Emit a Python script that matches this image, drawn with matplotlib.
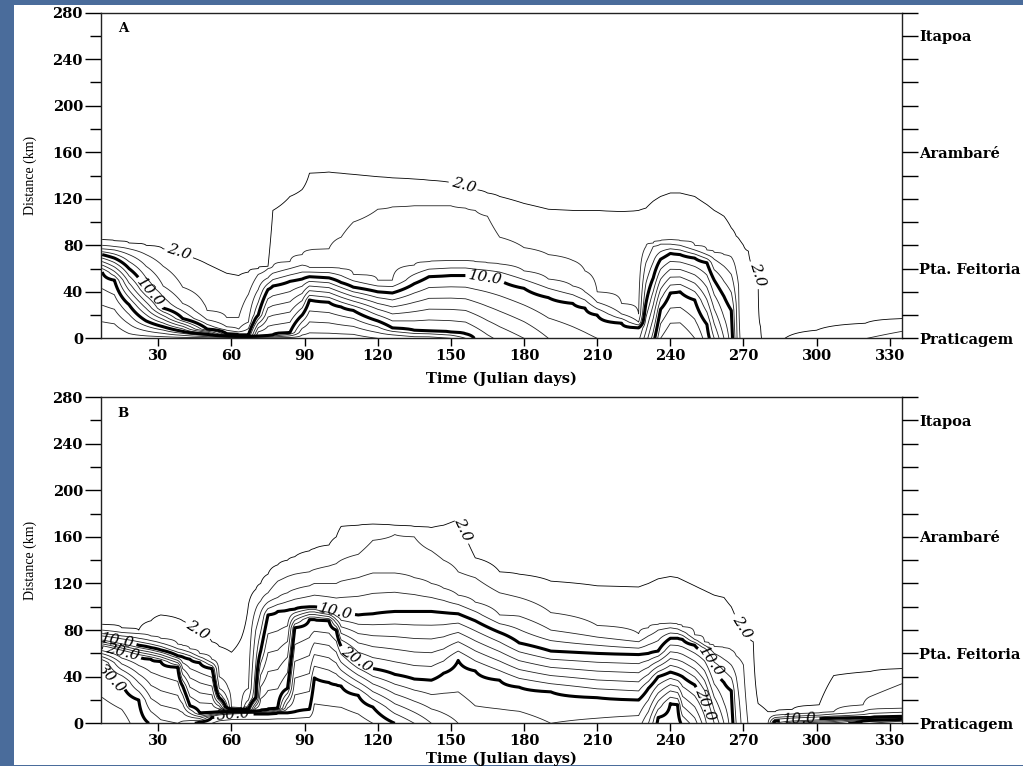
import matplotlib
matplotlib.use("Agg")
import matplotlib.pyplot as plt
import numpy as np
from matplotlib.patches import Rectangle

nan = np.nan

# Panel A - heights (km) where the salinity crosses 2, 4, 6, 10 and 20, per Julian day
a_days = [7, 12, 18, 25, 32, 40, 50, 58, 63, 67, 71, 75, 77, 84, 89, 92, 100, 105, 110,
          120, 126, 135, 141, 150, 156, 160, 165, 170, 180, 190, 200, 205, 210, 220, 227,
          230, 233, 236, 240, 244, 250, 255, 258, 262, 265, 267, 268, 270, 272, 276, 277,
          279, 283, 287, 300, 320, 335]
a_h2 = [85, 84, 82, 80, 77, 72, 64, 56, 54, 57, 60, 62, 110, 122, 128, 142, 143, 142, 141,
        139, 138, 137, 136, 134, 131, 128, 125, 122, 116, 111, 110, 110, 110, 109, 110,
        112, 118, 122, 125, 125, 122, 115, 110, 105, 95, 88, 86, 80, 75, 55, 10,
        nan, nan, nan, 7, 13, 17]
a_h4 = [80, 79, 77, 72, 62, 44, 24, 18, 18, 38, 55, 60, 62, 66, 72, 76, 77, 87, 100,
        111, 113, 114, 114, 114, 112, 110, 105, 87, 78, 72, 67, 58, 40, 30, 21,
        79, 82, 84, 85, 84, 80, 76, 74, 72, 70, 58, 45, nan, nan, nan, nan,
        nan, nan, nan, nan, nan, 6]
a_h6 = [77, 76, 72, 62, 45, 30, 16, 10, 8, 14, 42, 52, 56, 60, 63, 61, 61, 60, 55,
        50, 50, 63, 66, 67, 67, 66, 65, 64, 58, 51, 45, 40, 31, 21, 14,
        65, 79, 81, 81, 80, 76, 72, 68, 62, 55, 30, nan, nan, nan, nan, nan,
        nan, nan, nan, nan, nan, nan]
a_h10 = [72, 69, 60, 42, 26, 17, 8, 4, 3, 3, 20, 42, 45, 49, 51, 53, 52, 48, 44,
         40, 39, 47, 53, 54, 54, 53, 52, 50, 43, 35, 30, 26, 20, 13, 9,
         30, 52, 68, 73, 72, 69, 65, 50, 36, 24, nan, nan, nan, nan, nan, nan,
         nan, nan, nan, nan, nan, nan]
a_h20 = [57, 50, 29, 15, 10, 6, 3.5, 2, 1.5, 1.5, 2, 2.5, 3, 5, 20, 33, 31, 27, 24,
         15, 9, 7, 6.5, 5.5, 4, nan, nan, nan, nan, nan, nan, nan, nan, nan, nan,
         nan, nan, 25, 39, 40, 33, 12, nan, nan, nan, nan, nan, nan, nan, nan, nan,
         nan, nan, nan, nan, nan, nan]
a_s0 = [28, 28, 27, 27, 27, 27, 27, 27, 27, 27, 27, 27, 27, 27, 27, 27, 27, 27, 27,
        26, 26, 25, 25, 24, 22, 19.8, 18.5, 17.5, 16, 14, 13, 12.5, 12, 11.5, 11.5,
        15, 19, 24, 26, 26, 24, 21, 18, 14, 11, 7, 4.2, 3.5, 3.2, 2.4, 2.1,
        1.6, 1.5, 2.0, 3.0, 3.95, 5]

# Panel B - same, plus the 30 crossing
b_days = [7, 15, 22, 27, 31, 38, 40, 43, 47, 52, 55, 60, 64, 67, 70, 72, 75, 79, 83, 86,
          92, 94, 100, 103, 105, 112, 118, 127, 135, 142, 147, 153, 160, 170, 178, 191,
          210, 227, 231, 235, 240, 243, 245, 250, 254, 256, 258, 262, 265, 267, 270,
          272, 274, 276, 280, 283, 290, 301, 307, 319, 322, 335]
b_h2 = [85, 82, 80, 88, 93, 90, 88, 83, 78, 70, 66, 61, 73, 102, 115, 120, 128, 136, 140, 143,
        148, 150, 153, 160, 169, 170, 171, 170, 169, 168, 170, 175, 142, 130, 128, 122,
        118, 117, 120, 124, 126, 125, 123, 118, 114, 112, 110, 108, 100, 90, 80,
        74, 70, 17, 10, 10, 12, 15.7, 41, 44, 44.5, 47]
b_h4 = [80, 78, 77, 75, 73, 68, 67, 64, 60, 55, 40, 14, 13, 30, 98, 105, 112, 122, 126, 128,
        130, 132, 135, 137, 140, 145, 157, 162, 160, 148, 140, 130, 125, 112, 108, 95,
        84, 77, 82, 85, 86, 85, 83, 76, 70, 68, 66, 65, 63, 58, 50,
        nan, nan, nan, nan, 7, 8, 9, 10, 15.7, 23, 34]
b_h6 = [77, 75, 73, 71, 69, 64, 63, 61, 57, 52, 30, 13.5, 12.7, 20, 80, 95, 104, 108, 112, 115,
        118, 120, 120, 120, 122, 125, 129, 129, 125, 120, 116, 110, 104, 93, 92, 80,
        74, 70, 75, 80, 82, 81, 79, 72, 67, 64, 60, 55, 50, 40, nan,
        nan, nan, nan, nan, 5, 6, 7, 8, 10, 12, 13]
b_h10 = [73, 70, 67, 65, 63, 58, 57, 55, 52, 47, 22, 12, 12, 12, 22, 62, 93, 96, 97, 98,
         100, 100, 97, 95, 94, 93, 94, 96, 96, 96, 95, 94, 88, 78, 69, 62,
         60, 59, 60, 62, 73, 73, 72, 67, 62, 55, 45, 35, 28, nan, nan,
         nan, nan, nan, nan, 2, 3, 4, 4.5, 5, 5, 6]
b_h20 = [65, 61, 57, 55, 53, 48, 32, 15, 9, 9.5, 10, 10, 10, 10, 10.5, 11, 12, 13, 30, 82,
         89, 89, 88, 80, 66, 53, 47, 42, 38, 37, 43, 54, 45, 37, 31, 27,
         22, 20, 30, 40, 44, 42, 40, 33, 20, 5, nan, nan, nan, nan, nan,
         nan, nan, nan, nan, nan, nan, nan, nan, 2, 2.5, 3.5]
b_h30 = [52, 36, 20, nan, nan, nan, nan, nan, 1, 5, 6.5, 7.5, 8, 8, 8, 8, 8, 9, 9, 10,
         12, 39, 35, 33, 32, 24, 14, nan, nan, nan, nan, nan, nan, nan, nan, nan,
         nan, nan, nan, 5, 17, 16, nan, nan, nan, nan, nan, nan, nan, nan, nan,
         nan, nan, nan, nan, nan, nan, nan, nan, nan, nan, nan]
b_s0 = [33.5, 33, 31, 29.8, 28.5, 28, 28.5, 29.5, 30.5, 32, 33, 33.5, 33.5, 33.5, 33.5, 33.5,
        33.5, 33.5, 33.5, 33.5, 33.5, 33.5, 33.5, 33.5, 33.5, 33, 32, 30, 28, 26, 25, 24,
        23, 23, 23, 22, 22.5, 23, 26, 30.5, 31, 31, 29.5, 27, 23, 20.5, 18, 14, 11, 8, 5,
        3.9, 3.5, 3.0, 3.8, 12, 16, 18, 19, 21, 22, 24]

station_km = [0, 60, 160, 260]
station_names = ["Praticagem", "Pta. Feitoria", "Arambaré", "Itapoa"]

dist = np.arange(0, 280.5, 0.5)


def salinity_field(days, s0, crossings):
    z = np.zeros((len(dist), len(days)))
    for j in range(len(days)):
        hs, vs = [0.0], [s0[j]]
        for lev, h in crossings:
            hj = h[j]
            if np.isnan(hj) or lev >= s0[j]:
                continue
            hs.append(max(hj, hs[-1] + 0.3))
            vs.append(lev)
        hs.append(hs[-1] + 40)
        vs.append(0.0)
        z[:, j] = np.interp(dist, hs, vs)
    return z


za = salinity_field(a_days, a_s0, [(20, a_h20), (10, a_h10), (6, a_h6), (4, a_h4), (2, a_h2)])
zb = salinity_field(b_days, b_s0, [(30, b_h30), (20, b_h20), (10, b_h10), (6, b_h6),
                                   (4, b_h4), (2, b_h2)])

thin_levels = [4, 6, 8, 12, 14, 16, 18, 22, 24, 26, 28, 32]
bold_levels = [10, 20, 30]

serif = "DejaVu Serif"

fig = plt.figure(figsize=(10.23, 7.66), dpi=100)
fig.patch.set_facecolor("#4a6c9b")
fig.patches.append(Rectangle((14 / 1023, 1 / 766), 1.0, 760 / 766, transform=fig.transFigure,
                             facecolor="white", edgecolor="none", zorder=-5))

ax_a = fig.add_axes([0.0987, 0.5583, 0.783, 0.4251])
ax_b = fig.add_axes([0.0987, 0.0557, 0.783, 0.4260])

panels = [
    (ax_a, a_days, za, "A", -0.103,
     {2: [(39, 76), (155, 131), (277, 58)], 10: [(27, 40), (164, 51)]}),
    (ax_b, b_days, zb, "B", -0.088,
     {2: [(46, 79), (157, 168), (269, 82)], 10: [(13, 70), (103, 96), (256, 52), (293, 4)],
      20: [(15, 60), (112, 57), (254, 16)], 30: [(11, 40), (61, 5)]}),
]

for ax, days, z, letter, xlab_y, labels in panels:
    ax.set_facecolor("none")
    ax.contour(days, dist, z, levels=thin_levels, colors="#222222", linewidths=0.6)
    for lev in [2] + bold_levels:
        if z.max() <= lev:
            continue
        lw = 0.6 if lev == 2 else 2.2
        cs = ax.contour(days, dist, z, levels=[lev], colors="black", linewidths=lw)
        if lev in labels:
            txts = ax.clabel(cs, manual=labels[lev], fmt="%.1f", inline=True,
                             inline_spacing=3, fontsize=11)
            for t in txts:
                t.set_fontfamily(serif)
                t.set_fontstyle("italic")

    ax.set_xlim(6.5, 335)
    ax.set_ylim(0, 280)
    ax.set_xticks(np.arange(30, 331, 30))
    ax.set_yticks(np.arange(0, 281, 40))
    ax.set_yticks(np.arange(20, 281, 40), minor=True)
    ax.tick_params(axis="y", which="major", direction="out", length=11.5, width=1, pad=1.5,
                   labelsize=10.5)
    ax.tick_params(axis="y", which="minor", direction="out", length=8, width=1)
    ax.tick_params(axis="x", direction="out", length=6, width=1, pad=2, labelsize=10.5)
    for lab in ax.get_xticklabels() + ax.get_yticklabels():
        lab.set_fontfamily(serif)
        lab.set_fontweight("bold")
    for sp in ax.spines.values():
        sp.set_linewidth(1.0)
        sp.set_color("#222222")

    ax.set_xlabel("Time (Julian days)", fontfamily=serif, fontweight="bold", fontsize=10.5)
    ax.xaxis.set_label_coords(0.5, xlab_y)
    ax.set_ylabel("Distance (km)", fontfamily="Liberation Serif", fontsize=10)
    ax.yaxis.set_label_coords(-0.08, 0.5)
    ax.text(0.0275, 0.95, letter, transform=ax.transAxes, ha="center", va="center",
            fontfamily=serif, fontweight="bold", fontsize=9.5)

    rx = ax.twinx()
    rx.set_ylim(0, 280)
    rticks = np.arange(0, 281, 20)
    rx.set_yticks(rticks)
    rx.set_yticklabels([station_names[station_km.index(t)] if t in station_km else ""
                        for t in rticks])
    rx.tick_params(axis="y", direction="out", length=11.5, width=1, pad=1, labelsize=10.5)
    for lab in rx.get_yticklabels():
        lab.set_fontfamily(serif)
        lab.set_fontweight("bold")
    for sp in rx.spines.values():
        sp.set_visible(False)

fig.savefig("out.png", dpi=100, facecolor=fig.get_facecolor())
